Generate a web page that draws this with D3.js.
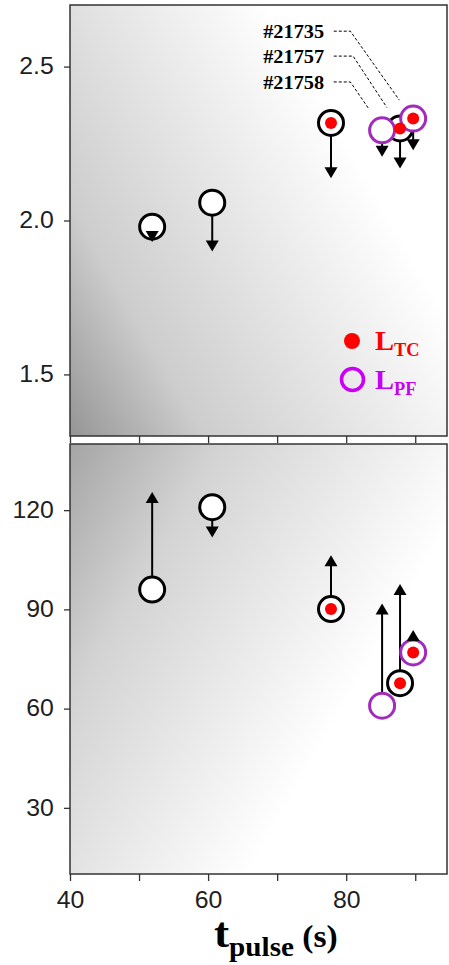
<!DOCTYPE html>
<html>
<head>
<meta charset="utf-8">
<script src="https://cdn.jsdelivr.net/npm/d3@7"></script>
<style>
  body { margin: 0; background: #fff; }
</style>
</head>
<body>
<div id="chart"></div>
<script>
// Shots: pulse length, marker kind, and the two limit quantities (value + arrow end)
const tPulse   = [51.9, 60.6, 77.8, 85.2, 87.8, 89.7];
const ringKind = ["k", "k", "k", "pf", "k", "pf"];
const hasLTC   = [false, false, true, false, true, true];
const topVal   = [1.98, 2.058, 2.317, 2.293, 2.299, 2.331];
const topLim   = [1.93, 1.899, 2.137, 2.207, 2.169, 2.228];
const botVal   = [96.0, 120.9, 90.1, 60.9, 67.7, 77.0];
const botLim   = [125.5, 111.7, 106.4, 91.8, 97.7, 83.8];

// Axis ticks
const xTicks = [40, 50, 60, 70, 80, 90];
const xLabels = [40, 60, 80];
const topTicks = [1.5, 2.0, 2.5];
const botTicks = [30, 60, 90, 120];

// Shot-number annotations (top panel, data coords)
const shotNames = ["#21735", "#21757", "#21758"];
const shotTextX = [76.8, 76.8, 76.8];
const shotLineY = [2.615, 2.534, 2.450];
const shotElbowX = [80.6, 81.0, 80.6];
const shotTipX = [87.7, 85.9, 83.3];
const shotTipY = [2.391, 2.367, 2.362];

const legendNames = [["L", "TC"], ["L", "PF"]];

const width = 449, height = 965;
const left = 70, right = 447;
const RED = "#ff0000", PURPLE = "#a22bbd", LEG_PURPLE = "#c800f5";

const svg = d3.select("#chart").append("svg")
  .attr("width", width).attr("height", height)
  .style("font-family", "DejaVu Sans, sans-serif");

const x = d3.scaleLinear().domain([40, 94.6]).range([left, right]);

const defs = svg.append("defs");
// top panel gets darker toward bottom-left, bottom panel toward top-left
function addGradient(id, x1, y1, x2, y2, stops) {
  const g = defs.append("linearGradient").attr("id", id)
    .attr("gradientUnits", "userSpaceOnUse")
    .attr("x1", x1).attr("y1", y1).attr("x2", x2).attr("y2", y2);
  stops.forEach(s => g.append("stop").attr("offset", s[0]).attr("stop-color", s[1]));
}
addGradient("gTop", 70, 436, 405, 243, [[0, "#959595"], [0.3, "#cdcdcd"], [1, "#ffffff"]]);
addGradient("gBot", 70, 444, 390, 629, [[0, "#a5a5a5"], [0.35, "#d3d3d3"], [1, "#ffffff"]]);

const panels = [
  {top: 5, bottom: 436, domain: [1.3, 2.7], ticks: topTicks, fmt: d3.format(".1f"),
   vals: topVal, lims: topLim, grad: "gTop", labels: false},
  {top: 444, bottom: 874, domain: [10, 140], ticks: botTicks, fmt: d3.format("d"),
   vals: botVal, lims: botLim, grad: "gBot", labels: true}
];

panels.forEach(p => drawPanel(p));

function drawPanel(p) {
  const y = d3.scaleLinear().domain(p.domain).range([p.bottom, p.top]);
  p.y = y;
  const g = svg.append("g");

  g.append("rect")
    .attr("x", left).attr("y", p.top)
    .attr("width", right - left).attr("height", p.bottom - p.top)
    .attr("fill", `url(#${p.grad})`);

  // left axis
  const ya = g.append("g").attr("transform", `translate(${left},0)`)
    .call(d3.axisLeft(y).tickValues(p.ticks).tickSize(6).tickPadding(9).tickFormat(p.fmt));
  // bottom axis
  const xa = g.append("g").attr("transform", `translate(0,${p.bottom})`)
    .call(d3.axisBottom(x).tickValues(xTicks).tickSize(7).tickPadding(11)
      .tickFormat(d => (p.labels && xLabels.includes(d)) ? d : ""));
  [ya, xa].forEach(a => {
    a.select(".domain").remove();
    a.selectAll(".tick line").attr("stroke", "#333").attr("stroke-width", 1.3);
    a.selectAll(".tick text").attr("fill", "#1e1e1e").style("font-size", "23px")
      .attr("transform", "scale(1.08,1)");
  });

  // frame
  g.append("rect")
    .attr("x", left).attr("y", p.top)
    .attr("width", right - left).attr("height", p.bottom - p.top)
    .attr("fill", "none").attr("stroke", "#333").attr("stroke-width", 1.5);

  const idx = d3.range(tPulse.length);
  const dir = i => (p.lims[i] > p.vals[i] ? -1 : 1); // pixel direction of arrow

  // arrow shafts
  g.append("g").selectAll("line").data(idx).enter().append("line")
    .attr("x1", i => x(tPulse[i])).attr("y1", i => y(p.vals[i]))
    .attr("x2", i => x(tPulse[i])).attr("y2", i => y(p.lims[i]) - dir(i) * 8)
    .attr("stroke", "#000").attr("stroke-width", 2);

  // rings: black first, purple on top
  const order = idx.slice().sort((a, b) => (ringKind[a] === "pf") - (ringKind[b] === "pf"));
  g.append("g").selectAll("circle").data(order).enter().append("circle")
    .attr("cx", i => x(tPulse[i])).attr("cy", i => y(p.vals[i]))
    .attr("r", 12.5)
    .attr("fill", "#fff")
    .attr("stroke", i => ringKind[i] === "pf" ? PURPLE : "#000")
    .attr("stroke-width", 3);

  // red L_TC dots
  g.append("g").selectAll("circle").data(idx.filter(i => hasLTC[i])).enter().append("circle")
    .attr("cx", i => x(tPulse[i])).attr("cy", i => y(p.vals[i]))
    .attr("r", 6).attr("fill", RED);

  // arrow heads
  g.append("g").selectAll("path").data(idx).enter().append("path")
    .attr("d", i => {
      const cx = x(tPulse[i]), ty = y(p.lims[i]), d = dir(i);
      return `M${cx},${ty}L${cx - 6.5},${ty - d * 11}L${cx + 6.5},${ty - d * 11}Z`;
    })
    .attr("fill", "#000");
}

// shot annotations in top panel
const yTop = panels[0].y;
const ann = svg.append("g");
shotNames.forEach((name, i) => {
  const ly = yTop(shotLineY[i]);
  ann.append("path")
    .attr("d", `M${x(78.2)},${ly}L${x(shotElbowX[i])},${ly}L${x(shotTipX[i])},${yTop(shotTipY[i])}`)
    .attr("fill", "none").attr("stroke", "#000").attr("stroke-width", 1)
    .attr("stroke-dasharray", "3,2");
  ann.append("text")
    .attr("transform", `translate(${x(shotTextX[i])},${ly + 7}) scale(1.07,1)`)
    .attr("text-anchor", "end")
    .style("font-family", "Liberation Serif, serif").style("font-weight", "bold")
    .style("font-size", "19px")
    .text(name);
});

// legend
const leg = svg.append("g");
const legY = [341, 379.5];
legendNames.forEach((nm, i) => {
  const col = i === 0 ? RED : LEG_PURPLE;
  if (i === 0) {
    leg.append("circle").attr("cx", 352).attr("cy", legY[i]).attr("r", 8).attr("fill", RED);
  } else {
    leg.append("circle").attr("cx", 352.5).attr("cy", legY[i]).attr("r", 11)
      .attr("fill", "none").attr("stroke", LEG_PURPLE).attr("stroke-width", 3.5);
  }
  const t = leg.append("text")
    .attr("transform", `translate(375,${legY[i] + 9}) scale(1.02,1)`)
    .style("font-family", "Liberation Serif, serif").style("font-weight", "bold")
    .attr("fill", col);
  t.append("tspan").style("font-size", "28px").text(nm[0]);
  t.append("tspan").style("font-size", "18px").attr("dy", 6).text(nm[1]);
});

// x axis title
const xt = svg.append("text")
  .attr("transform", "translate(214,947) scale(1.08,1)")
  .style("font-family", "Liberation Serif, serif").style("font-weight", "bold")
  .attr("fill", "#000");
xt.append("tspan").style("font-size", "42px").text("t");
xt.append("tspan").style("font-size", "27px").attr("dy", 9).text("pulse");
xt.append("tspan").style("font-size", "31px").attr("dy", -9).text(" (s)");
</script>
</body>
</html>
